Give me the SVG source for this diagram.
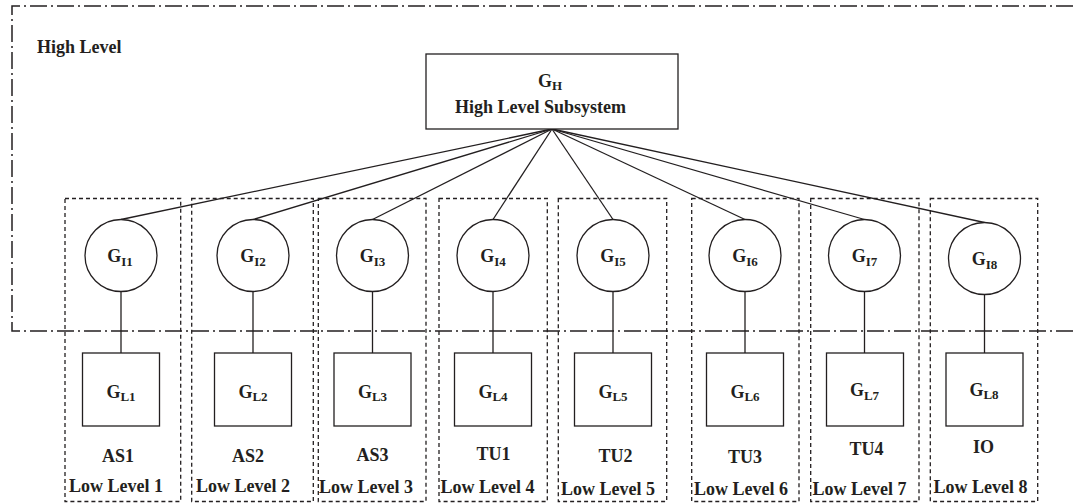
<svg xmlns="http://www.w3.org/2000/svg" width="1073" height="504" viewBox="0 0 1073 504">
  <style>
    .lbl { font-family: "Liberation Serif", "Times New Roman", serif; font-weight: bold; font-size: 18px; fill: #231f20; text-anchor: middle; }
    .sub { font-size: 13px; }
    .solid { fill: none; stroke: #231f20; stroke-width: 1.3; }
    .node { fill: #ffffff; stroke: #231f20; stroke-width: 1.3; }
    .region { fill: none; stroke: #231f20; stroke-width: 1.5; stroke-dasharray: 17 4 2 4; }
    .group { fill: none; stroke: #231f20; stroke-width: 1.3; stroke-dasharray: 4 3; }
  </style>

  <!-- high level region boundary (open on the right) -->
  <path class="region" d="M1073 6 H12 V331 H1073"/>
  <text class="lbl" x="37" y="53" style="text-anchor:start">High Level</text>

  <!-- low level subsystem groupings -->
  <g id="groups">
    <rect class="group" x="65" y="198.5" width="115.7" height="303"/>
    <rect class="group" x="191.7" y="198.5" width="121.6" height="303"/>
    <rect class="group" x="318.3" y="198.5" width="107.7" height="303"/>
    <rect class="group" x="439" y="198.5" width="108.3" height="303"/>
    <rect class="group" x="558.3" y="198.5" width="108.4" height="303"/>
    <rect class="group" x="691.7" y="198.5" width="107.3" height="303"/>
    <rect class="group" x="810.7" y="198.5" width="108.3" height="303"/>
    <rect class="group" x="930.3" y="198.5" width="107.4" height="303"/>
  </g>

  <!-- connectors -->
  <g id="connectors" class="solid">
    <line x1="552" y1="129" x2="121" y2="219.5"/>
    <line x1="552" y1="129" x2="253" y2="219.5"/>
    <line x1="552" y1="129" x2="372.5" y2="219.5"/>
    <line x1="552" y1="129" x2="493" y2="219.5"/>
    <line x1="552" y1="129" x2="613" y2="219.5"/>
    <line x1="552" y1="129" x2="745" y2="219.5"/>
    <line x1="552" y1="129" x2="864.5" y2="219.5"/>
    <line x1="552" y1="129" x2="984.5" y2="222.5"/>
    <line x1="121" y1="291.5" x2="121" y2="353"/>
    <line x1="253" y1="291.5" x2="253" y2="353"/>
    <line x1="372.5" y1="291.5" x2="372.5" y2="353"/>
    <line x1="493" y1="291.5" x2="493" y2="353"/>
    <line x1="613" y1="291.5" x2="613" y2="353"/>
    <line x1="745" y1="291.5" x2="745" y2="353"/>
    <line x1="864.5" y1="291.5" x2="864.5" y2="353"/>
    <line x1="984.5" y1="294.5" x2="984.5" y2="353"/>
  </g>

  <!-- high level subsystem -->
  <g id="GH">
    <rect class="node" x="426" y="54" width="252" height="75"/>
    <text class="lbl" x="550" y="86.5">G<tspan class="sub" dy="3.5">H</tspan></text>
    <text class="lbl" x="540.5" y="112.5">High Level Subsystem</text>
  </g>

  <!-- interface nodes -->
  <g id="GI1"><circle class="node" cx="121" cy="255.5" r="36"/><text class="lbl" x="120" y="262">G<tspan class="sub" dy="4">I1</tspan></text></g>
  <g id="GI2"><circle class="node" cx="253" cy="255.5" r="36"/><text class="lbl" x="253" y="262">G<tspan class="sub" dy="4">I2</tspan></text></g>
  <g id="GI3"><circle class="node" cx="372.5" cy="255.5" r="36"/><text class="lbl" x="372.5" y="262">G<tspan class="sub" dy="4">I3</tspan></text></g>
  <g id="GI4"><circle class="node" cx="493" cy="255.5" r="36"/><text class="lbl" x="493" y="262">G<tspan class="sub" dy="4">I4</tspan></text></g>
  <g id="GI5"><circle class="node" cx="613" cy="255.5" r="36"/><text class="lbl" x="613" y="262">G<tspan class="sub" dy="4">I5</tspan></text></g>
  <g id="GI6"><circle class="node" cx="745" cy="255.5" r="36"/><text class="lbl" x="745" y="262">G<tspan class="sub" dy="4">I6</tspan></text></g>
  <g id="GI7"><circle class="node" cx="864.5" cy="255.5" r="36"/><text class="lbl" x="864.5" y="262">G<tspan class="sub" dy="4">I7</tspan></text></g>
  <g id="GI8"><circle class="node" cx="984.5" cy="258.5" r="36"/><text class="lbl" x="984.5" y="265">G<tspan class="sub" dy="4">I8</tspan></text></g>

  <!-- low level nodes -->
  <g id="GL1"><rect class="node" x="82.5" y="353" width="77" height="73"/><text class="lbl" x="121" y="397.5">G<tspan class="sub" dy="3.5">L1</tspan></text>
    <text class="lbl" x="118" y="461.5">AS1</text><text class="lbl" x="116" y="492">Low Level 1</text></g>
  <g id="GL2"><rect class="node" x="214.5" y="353" width="77" height="73"/><text class="lbl" x="253" y="397.5">G<tspan class="sub" dy="3.5">L2</tspan></text>
    <text class="lbl" x="248" y="461.5">AS2</text><text class="lbl" x="243" y="492">Low Level 2</text></g>
  <g id="GL3"><rect class="node" x="334" y="353" width="77" height="73"/><text class="lbl" x="372.5" y="397.5">G<tspan class="sub" dy="3.5">L3</tspan></text>
    <text class="lbl" x="372.5" y="461">AS3</text><text class="lbl" x="366" y="492.5">Low Level 3</text></g>
  <g id="GL4"><rect class="node" x="454.5" y="353" width="77" height="73"/><text class="lbl" x="493" y="397.5">G<tspan class="sub" dy="3.5">L4</tspan></text>
    <text class="lbl" x="493.5" y="460">TU1</text><text class="lbl" x="487.5" y="493">Low Level 4</text></g>
  <g id="GL5"><rect class="node" x="574.5" y="353" width="77" height="73"/><text class="lbl" x="613" y="397.5">G<tspan class="sub" dy="3.5">L5</tspan></text>
    <text class="lbl" x="615.5" y="461.5">TU2</text><text class="lbl" x="608" y="494.5">Low Level 5</text></g>
  <g id="GL6"><rect class="node" x="706.5" y="353" width="77" height="73"/><text class="lbl" x="745" y="397.5">G<tspan class="sub" dy="3.5">L6</tspan></text>
    <text class="lbl" x="745" y="463">TU3</text><text class="lbl" x="741" y="495">Low Level 6</text></g>
  <g id="GL7"><rect class="node" x="826.5" y="353" width="77" height="73"/><text class="lbl" x="864.5" y="396">G<tspan class="sub" dy="3.5">L7</tspan></text>
    <text class="lbl" x="866.5" y="455">TU4</text><text class="lbl" x="859.5" y="495">Low Level 7</text></g>
  <g id="GL8"><rect class="node" x="946" y="353" width="77" height="73"/><text class="lbl" x="984" y="395.5">G<tspan class="sub" dy="3.5">L8</tspan></text>
    <text class="lbl" x="983.5" y="452.5">IO</text><text class="lbl" x="980.5" y="492.5">Low Level 8</text></g>
</svg>
